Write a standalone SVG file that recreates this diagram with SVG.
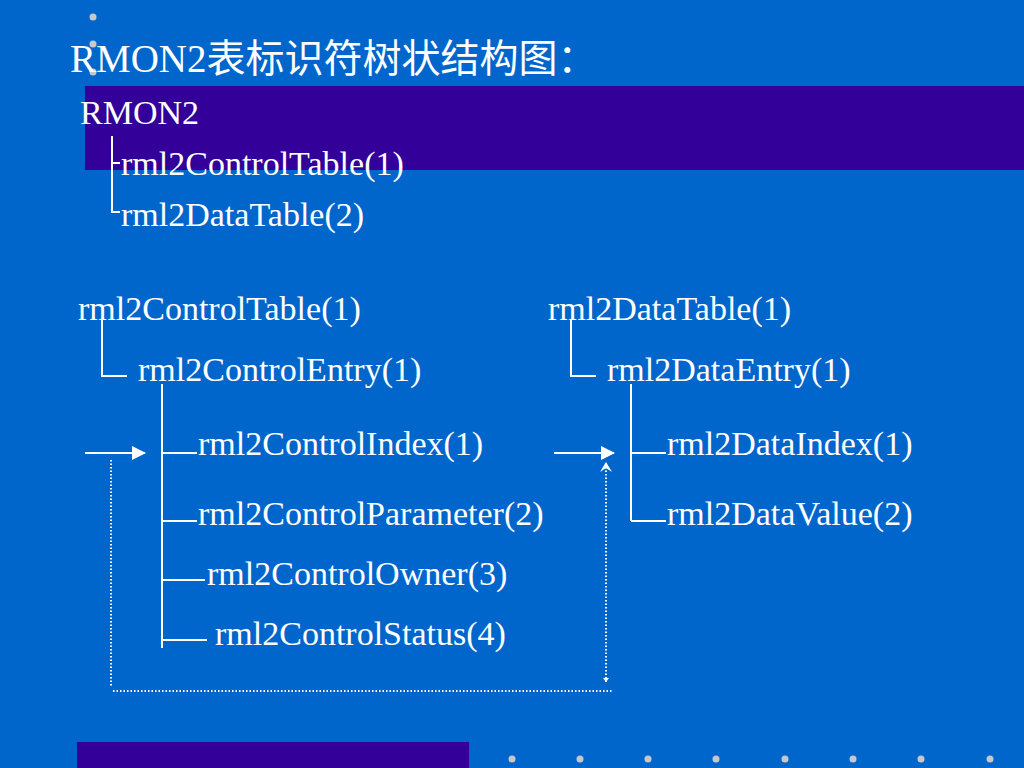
<svg xmlns="http://www.w3.org/2000/svg" width="1024" height="768" viewBox="0 0 1024 768">
<defs>
<style>
.t{font-family:"Liberation Serif","Times New Roman",serif;font-size:34px;fill:#fff}
.ttl{font-family:"Liberation Serif","Noto Sans CJK SC",serif;font-size:39px;fill:#fff}
.ln{stroke:#fff;stroke-width:2;fill:none}
.dt{stroke:#fff;stroke-width:2;stroke-dasharray:1.5 2;fill:none}
.dot{fill:#c8c8c8}
</style>
<marker id="ah" viewBox="0 0 14 14" refX="13" refY="7" markerWidth="14" markerHeight="14" markerUnits="userSpaceOnUse" orient="auto"><path d="M0,0 L14,7 L0,14 z" fill="#fff"/></marker>
<marker id="ch" viewBox="0 0 12 12" refX="6" refY="1" markerWidth="12" markerHeight="12" markerUnits="userSpaceOnUse" orient="0"><path d="M0,11 L6,1 L12,11 L6,7 z" fill="#fff"/></marker>
<marker id="sm" viewBox="0 0 6 6" refX="3" refY="5" markerWidth="6" markerHeight="6" markerUnits="userSpaceOnUse" orient="0"><path d="M0,1 L3,5 L6,1 z" fill="#fff"/></marker>
</defs>
<rect width="1024" height="768" fill="#0066cc"/>
<rect x="85" y="86" width="939" height="84" fill="#330099"/>
<rect x="77" y="742" width="392" height="26" fill="#330099"/>
<g id="bullets">
<circle class="dot" cx="93" cy="17" r="3.5"/>
<circle class="dot" cx="93" cy="44" r="3.5"/>
<circle class="dot" cx="93" cy="72" r="3.5"/>
<circle class="dot" cx="512" cy="759" r="3.5"/>
<circle class="dot" cx="580" cy="759" r="3.5"/>
<circle class="dot" cx="648" cy="759" r="3.5"/>
<circle class="dot" cx="716" cy="759" r="3.5"/>
<circle class="dot" cx="785" cy="759" r="3.5"/>
<circle class="dot" cx="853" cy="759" r="3.5"/>
<circle class="dot" cx="921" cy="759" r="3.5"/>
<circle class="dot" cx="990" cy="759" r="3.5"/>
</g>
<text class="ttl" x="70" y="72">RMON2表标识符树状结构图：</text>
<g id="connectors">
<path class="ln" d="M112,136 V212 H120 M112,163 H120"/>
<path class="ln" d="M102,319 V376 H127"/>
<path class="ln" d="M571,319 V376 H596"/>
<path class="ln" d="M162,384 V648 M162,453 H197 M162,521 H197 M162,580 H205 M162,640 H207"/>
<path class="ln" d="M631,384 V521 M631,453 H666 M631,521 H666"/>
<line class="ln" x1="85" y1="453" x2="145" y2="453" marker-end="url(#ah)"/>
<line class="ln" x1="554" y1="453" x2="614" y2="453" marker-end="url(#ah)"/>
<path class="dt" d="M111,460 V686 M113,691 H613"/>
<line class="dt" x1="606" y1="682" x2="606" y2="462" marker-end="url(#ch)" marker-start="url(#sm)"/>
</g>
<g id="n-rmon2"><text class="t" x="80" y="124">RMON2</text></g>
<g id="n-ct-top"><text class="t" x="121" y="175">rml2ControlTable(1)</text></g>
<g id="n-dt-top"><text class="t" x="121" y="226">rml2DataTable(2)</text></g>
<g id="n-ct"><text class="t" x="78" y="320">rml2ControlTable(1)</text></g>
<g id="n-dt"><text class="t" x="548" y="320">rml2DataTable(1)</text></g>
<g id="n-ce"><text class="t" x="138" y="381">rml2ControlEntry(1)</text></g>
<g id="n-de"><text class="t" x="607" y="381">rml2DataEntry(1)</text></g>
<g id="n-ci"><text class="t" x="198" y="455">rml2ControlIndex(1)</text></g>
<g id="n-cp"><text class="t" x="198" y="525">rml2ControlParameter(2)</text></g>
<g id="n-co"><text class="t" x="207" y="585">rml2ControlOwner(3)</text></g>
<g id="n-cs"><text class="t" x="215" y="645">rml2ControlStatus(4)</text></g>
<g id="n-di"><text class="t" x="667" y="455">rml2DataIndex(1)</text></g>
<g id="n-dv"><text class="t" x="667" y="525">rml2DataValue(2)</text></g>
</svg>
